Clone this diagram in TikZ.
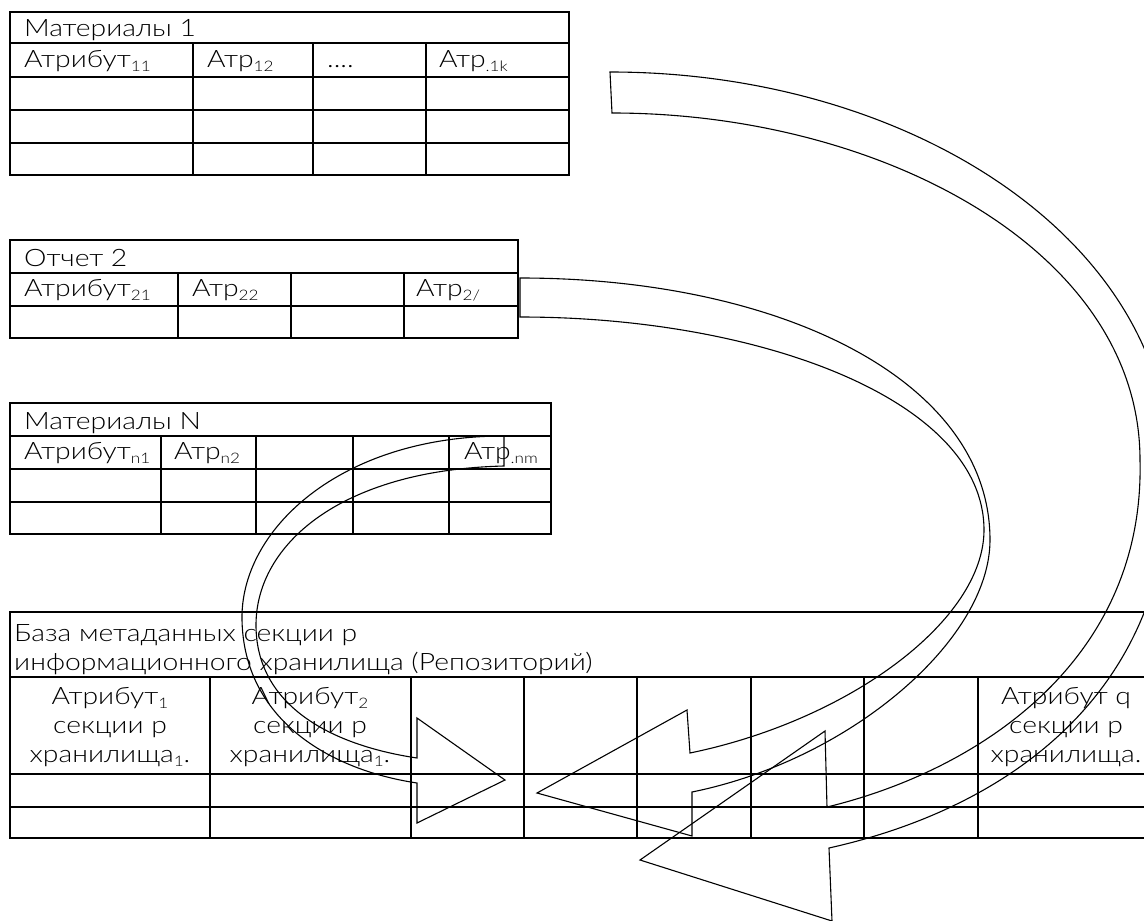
\documentclass[tikz,border=0pt]{standalone}
\usepackage{fontspec}
\IfFontExistsTF{Lato Light}{\newfontfamily\tabfont{Lato Light}[FakeStretch=1.18]}{\newfontfamily\tabfont{Lato}[FakeStretch=1.18]}
\newcommand\sbs[1]{\raisebox{-0.2em}{\fontsize{14.5}{14.5}\selectfont #1}}
\begin{document}
\begin{tikzpicture}[x=1pt,y=-1pt,
  tbl/.style={line width=1.8pt},
  arr/.style={line width=1.1pt, line join=miter},
  lbl/.style={inner sep=0pt, anchor=base west, font=\tabfont\fontsize{24}{28}\selectfont},
  ctr/.style={lbl, anchor=base}]
\useasboundingbox (0,0) rectangle (1144,921);

% Table 1
\draw[tbl] (10,12) rectangle (569,175);
\foreach \y in {43,77,110,143} \draw[tbl] (10,\y) -- (569,\y);
\foreach \x in {193,313,426} \draw[tbl] (\x,43) -- (\x,175);
% Table 2
\draw[tbl] (10,240) rectangle (518,338);
\foreach \y in {273,306} \draw[tbl] (10,\y) -- (518,\y);
\foreach \x in {178,291,404} \draw[tbl] (\x,273) -- (\x,338);
% Table N
\draw[tbl] (10,403) rectangle (551,534);
\foreach \y in {436,469,502} \draw[tbl] (10,\y) -- (551,\y);
\foreach \x in {161,256,353,449} \draw[tbl] (\x,436) -- (\x,534);
% Base table
\draw[tbl] (10,612) rectangle (1160,838);
\foreach \y in {677,774,807} \draw[tbl] (10,\y) -- (1160,\y);
\foreach \x in {210,411,524,637,751,864,978} \draw[tbl] (\x,677) -- (\x,838);

% Texts
\node[lbl] (m1) at (24,36) {Материалы 1};
\node[lbl] (m1a) at (24,67) {Атрибут\sbs{11}};
\node[lbl] (m1b) at (207,67) {Атр\sbs{12}};
\node[lbl] (m1c) at (327,67) {....};
\node[lbl] (m1d) at (439,67) {Атр\sbs{.1k}};

\node[lbl] (o2) at (24,266) {Отчет 2};
\node[lbl] (o2a) at (24,296) {Атрибут\sbs{21}};
\node[lbl] (o2b) at (192,296) {Атр\sbs{22}};
\node[lbl] (o2d) at (416,296) {Атр\sbs{2/}};

\node[lbl] (mn) at (24,429) {Материалы N};
\node[lbl] (mna) at (24,459) {Атрибут\sbs{n1}};
\node[lbl] (mnb) at (174,459) {Атр\sbs{n2}};
\node[lbl] (mnd) at (464,459) {Атр\sbs{.nm}};

\node[lbl] (bt1) at (14,641) {База метаданных секции р};
\node[lbl] (bt2) at (14,670) {информационного хранилища (Репозиторий)};
\node[ctr] (c1a) at (110,704) {Атрибут\sbs{1}};
\node[ctr] (c1b) at (110,733) {секции р};
\node[ctr] (c1c) at (110,762) {хранилища\sbs{1}.};
\node[ctr] (c2a) at (310,704) {Атрибут\sbs{2}};
\node[ctr] (c2b) at (310,733) {секции р};
\node[ctr] (c2c) at (310,762) {хранилища\sbs{1}.};
\node[ctr] (cqa) at (1066,704) {Атрибут q};
\node[ctr] (cqb) at (1066,733) {секции р};
\node[ctr] (cqc) at (1066,762) {хранилища.};

% Curved block arrows
\draw[arr] (610,72) .. controls (910,72) and (1170,240) .. (1170,470)
  .. controls (1170,700) and (1000,810) .. (829,848) -- (832,921) -- (640,860)
  -- (825,731) -- (827,807) .. controls (980,770) and (1145,660) .. (1140,460)
  .. controls (1140,250) and (880,113) .. (612,113) -- cycle;
\draw[arr] (520,278) .. controls (780,278) and (990,380) .. (990,540)
  .. controls (990,640) and (850,760) .. (692,792) -- (692,836) -- (537,793)
  -- (687,710) -- (690,753) .. controls (850,720) and (984,620) .. (984,530)
  .. controls (984,400) and (760,317) .. (520,317) -- cycle;
\draw[arr] (504,436) .. controls (340,436) and (240,530) .. (242,620)
  .. controls (244,720) and (330,770) .. (417,783) -- (417,823) -- (505,780)
  -- (417,718) -- (417,758) .. controls (330,745) and (256,705) .. (256,625)
  .. controls (256,545) and (340,470) .. (504,466) -- cycle;
\end{tikzpicture}
\end{document}
